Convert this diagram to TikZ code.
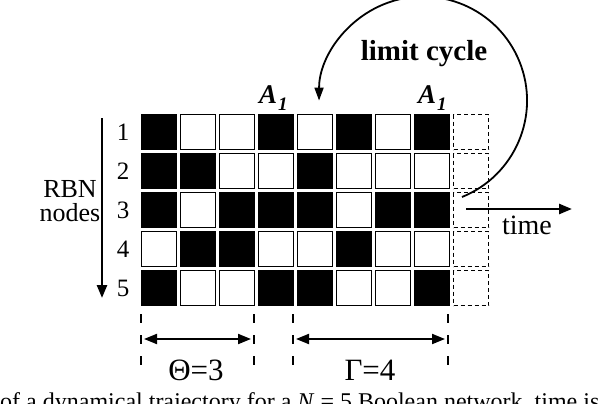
\documentclass[tikz,border=0pt]{standalone}
\usepackage{fontspec}
\setmainfont{Liberation Serif}
\usetikzlibrary{arrows.meta}
\begin{document}
\begin{tikzpicture}[x=1pt,y=1pt]
		\newcommand{\pitch}{39}
		\newcommand{\xorig}{159}
		\newcommand{\yorig}{-132}
		\newcommand{\fsize}[1]{\fontsize{#1}{#1}\selectfont}
		\newcommand{\attr}{{\fsize{27}\bfseries\itshape A\kern1pt\raisebox{-7pt}{\fsize{19}1}}}
		
		% set the styles of the states and arrows
		\tikzset{
			state1/.style={fill=black, minimum size=36pt, inner sep=0pt},
			state0/.style={draw=black, line width=1.3pt, minimum size=34.7pt, inner sep=0pt},
			ghost/.style={draw=black, line width=0.8pt, dash pattern=on 4pt off 3pt, minimum size=35pt, inner sep=0pt},
			lbl/.style={font=\fsize{25}, inner sep=0pt},
			big/.style={font=\fsize{28}, inner sep=0pt},
			fat/.style={-{Triangle[length=13pt,width=10pt]}, line width=2.6pt},
			thin arrow/.style={-{Triangle[length=13pt,width=9pt]}, line width=1.8pt},
			dim/.style={{Triangle[length=13pt,width=10pt]}-{Triangle[length=13pt,width=10pt]}, line width=2pt},
			cut/.style={line width=2.8pt, dash pattern=on 9pt off 12pt}
		}
		\useasboundingbox (0,0) rectangle (600,-404);
	
		% states
		\foreach \states [count=\r] in {{1,0,0,1,0,1,0,1},{1,1,0,0,1,0,0,0},{1,0,1,1,1,0,1,1},{0,1,1,0,0,1,0,0},{1,0,0,1,1,0,0,1}} {
			\foreach \s [count=\c] in \states
				\node[state\s] (n\r-\c) at ({\xorig+\pitch*(\c-1)},{\yorig-\pitch*(\r-1)}) {};
			\node[ghost] (n\r-9) at ({\xorig+\pitch*8},{\yorig-\pitch*(\r-1)}) {};
			\node[lbl] (row\r) at (123,{\yorig-\pitch*(\r-1)}) {\r};
		}
		
		% nodes axis
		\coordinate (axtop) at (102,-118);
		\coordinate (axbot) at (102,-298);
		\draw[fat] (axtop) -- (axbot);
		\node[lbl, font=\fsize{26}, align=center] (rbn) at (70,-201) {RBN\\[-2pt]nodes};
		
		% attractor labels
		\node[anchor=base west, inner sep=0pt] (att1) at (259,-103) {\attr};
		\node[anchor=base west, inner sep=0pt] (att2) at (418,-103) {\attr};
		
		% limit cycle
		\coordinate (cycstart) at (462,-197);
		\draw[thin arrow] (cycstart) arc[start angle=-68, end angle=180, radius=104];
		\node[big, font=\fsize{29}, anchor=base] (cyc) at (424,-61) {\bfseries limit cycle};
		
		% time
		\coordinate (tstart) at (466,-209);
		\coordinate (tend) at (572,-209);
		\draw[fat] (tstart) -- (tend);
		\node[big, anchor=base] (time) at (527,-234) {time};
		
		% transient and period
		\foreach \n/\x in {1/141,2/254,3/293,4/448} {
			\coordinate (d\n-top) at (\x,-314);
			\coordinate (d\n-bot) at (\x,-365);
			\coordinate (d\n-mid) at (\x,-339);
			\draw[cut] (d\n-top) -- (d\n-bot);
		}
		\draw[dim, shorten <=3pt, shorten >=3pt] (d1-mid) -- (d2-mid);
		\draw[dim, shorten <=3pt, shorten >=3pt] (d3-mid) -- (d4-mid);
		\node[big, font=\fsize{31}, anchor=base] (theta) at (196,-380) {Θ=3};
		\node[big, font=\fsize{31}, anchor=base] (gamma) at (370,-380) {Γ=4};
		
		% caption
		\node[font=\fsize{24}, anchor=base west, inner sep=0pt] (cap) at (0,-409) {of a dynamical trajectory for a \textit{N} = 5 Boolean network, time is r};
		  
\end{tikzpicture}
\end{document}
